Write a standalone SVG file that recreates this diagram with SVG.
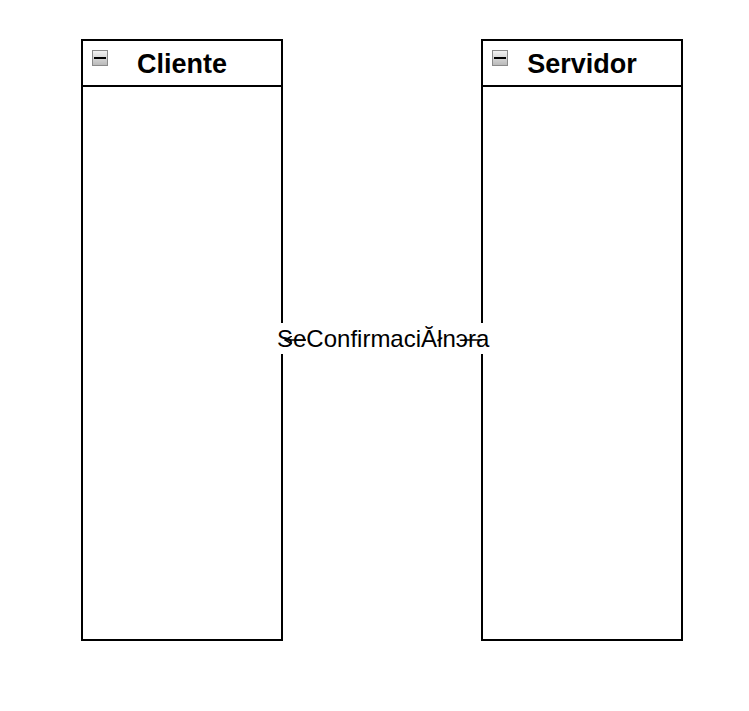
<svg xmlns="http://www.w3.org/2000/svg" width="749" height="711" viewBox="0 0 749 711">
<style>
.box{fill:#fff;stroke:#000;stroke-width:2}
.title{font-family:"Liberation Sans",Arial,sans-serif;font-weight:bold;font-size:27px;fill:#000;text-anchor:middle}
.lbl{font-family:"Liberation Sans",Arial,sans-serif;font-size:24px;fill:#000}
.ic{fill:url(#g);stroke:#8a8a8a;stroke-width:1}
</style>
<defs>
<linearGradient id="g" x1="0" y1="0" x2="0" y2="1">
<stop offset="0" stop-color="#f4f4f4"/>
<stop offset="1" stop-color="#b8b8b8"/>
</linearGradient>
<marker id="ah" markerWidth="8" markerHeight="8" refX="7" refY="4" orient="auto" markerUnits="userSpaceOnUse">
<path d="M0,0 L7,4 L0,8" fill="none" stroke="#000" stroke-width="1.5"/>
</marker>
</defs>
<rect width="749" height="711" fill="#fff"/>
<g id="cliente">
<rect class="box" x="82" y="40" width="200" height="600"/>
<line x1="82" y1="86" x2="282" y2="86" stroke="#000" stroke-width="2"/>
<rect class="ic" x="92.5" y="50.5" width="15" height="15"/>
<line x1="94" y1="58" x2="106" y2="58" stroke="#000" stroke-width="2"/>
<text class="title" x="182" y="73">Cliente</text>
</g>
<g id="servidor">
<rect class="box" x="482" y="40" width="200" height="600"/>
<line x1="482" y1="86" x2="682" y2="86" stroke="#000" stroke-width="2"/>
<rect class="ic" x="492.5" y="50.5" width="15" height="15"/>
<line x1="494" y1="58" x2="506" y2="58" stroke="#000" stroke-width="2"/>
<text class="title" x="582" y="73">Servidor</text>
</g>
<g id="connectors">
<rect x="277" y="323" width="210" height="31" fill="#fff"/>
<text class="lbl" x="277" y="347">SeConfirmaciĂłnэra</text>
<line x1="306" y1="340" x2="285" y2="340" stroke="#000" stroke-width="1.5" marker-end="url(#ah)"/>
<line x1="464" y1="340" x2="482" y2="340" stroke="#000" stroke-width="1.5"/>
</g>
</svg>
